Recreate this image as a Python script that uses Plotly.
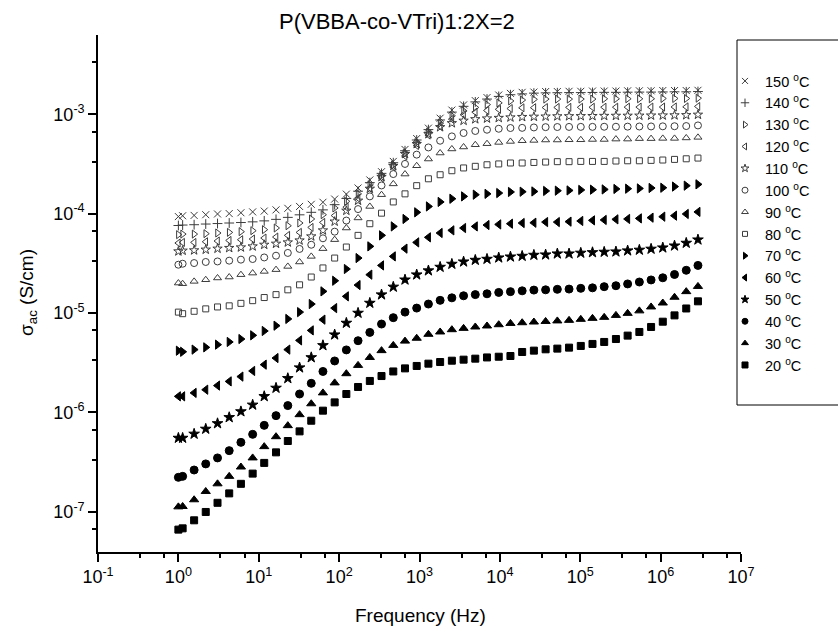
import plotly.graph_objects as go

# Frequency sweep (Hz)
freq = [1.0, 1.13, 1.57, 2.19, 3.07, 4.29, 6.0, 8.4, 11.7, 16.4, 23.0, 32.2, 45.0, 62.9,
        88.0, 123, 172, 241, 337, 472, 660, 923, 1291, 1806, 2527, 3535, 4945, 6918,
        9678, 13540, 18940, 26500, 37070, 51860, 72550, 101500, 142000, 198600,
        277900, 388700, 543800, 760800, 1064000, 1489000, 2083000, 2914000]

# AC conductivity (S/cm) at each temperature
s150 = [9.33e-5, 9.51e-5, 9.59e-5, 9.75e-5, 9.91e-5, 1.00e-4, 1.02e-4, 1.04e-4, 1.06e-4, 1.09e-4,
        1.13e-4, 1.18e-4, 1.24e-4, 1.30e-4, 1.40e-4, 1.57e-4, 1.81e-4, 2.18e-4, 2.64e-4, 3.35e-4,
        4.42e-4, 5.69e-4, 7.24e-4, 9.12e-4, 1.10e-3, 1.24e-3, 1.37e-3, 1.47e-3, 1.56e-3, 1.62e-3,
        1.66e-3, 1.67e-3, 1.69e-3, 1.69e-3, 1.70e-3, 1.70e-3, 1.71e-3, 1.71e-3, 1.71e-3, 1.72e-3,
        1.72e-3, 1.72e-3, 1.73e-3, 1.73e-3, 1.73e-3, 1.74e-3]
s140 = [7.59e-5, 7.67e-5, 7.73e-5, 7.85e-5, 7.94e-5, 8.04e-5, 8.13e-5, 8.26e-5, 8.45e-5, 8.75e-5,
        9.16e-5, 9.72e-5, 1.03e-4, 1.09e-4, 1.23e-4, 1.42e-4, 1.68e-4, 2.05e-4, 2.54e-4, 3.25e-4,
        4.29e-4, 5.50e-4, 7.00e-4, 8.75e-4, 1.05e-3, 1.20e-3, 1.33e-3, 1.42e-3, 1.51e-3, 1.57e-3,
        1.60e-3, 1.63e-3, 1.64e-3, 1.645e-3, 1.65e-3, 1.65e-3, 1.655e-3, 1.66e-3, 1.66e-3, 1.665e-3,
        1.67e-3, 1.67e-3, 1.675e-3, 1.68e-3, 1.68e-3, 1.69e-3]
s130 = [6.14e-5, 6.22e-5, 6.22e-5, 6.28e-5, 6.38e-5, 6.47e-5, 6.58e-5, 6.73e-5, 6.89e-5, 7.16e-5,
        7.55e-5, 8.04e-5, 8.83e-5, 9.75e-5, 1.14e-4, 1.33e-4, 1.58e-4, 1.95e-4, 2.43e-4, 3.09e-4,
        4.03e-4, 5.19e-4, 6.61e-4, 8.13e-4, 9.66e-4, 1.08e-3, 1.17e-3, 1.25e-3, 1.30e-3, 1.36e-3,
        1.39e-3, 1.41e-3, 1.42e-3, 1.42e-3, 1.42e-3, 1.42e-3, 1.42e-3, 1.43e-3, 1.43e-3, 1.43e-3,
        1.43e-3, 1.43e-3, 1.44e-3, 1.44e-3, 1.44e-3, 1.45e-3]
s120 = [5.06e-5, 5.13e-5, 5.13e-5, 5.21e-5, 5.30e-5, 5.37e-5, 5.46e-5, 5.55e-5, 5.68e-5, 5.81e-5,
        6.04e-5, 6.47e-5, 7.26e-5, 8.15e-5, 9.55e-5, 1.16e-4, 1.43e-4, 1.80e-4, 2.29e-4, 2.95e-4,
        3.80e-4, 4.84e-4, 6.17e-4, 7.59e-4, 8.91e-4, 9.89e-4, 1.05e-3, 1.09e-3, 1.12e-3, 1.14e-3,
        1.16e-3, 1.163e-3, 1.167e-3, 1.170e-3, 1.172e-3, 1.173e-3, 1.175e-3, 1.176e-3, 1.177e-3,
        1.178e-3, 1.179e-3, 1.180e-3, 1.181e-3, 1.183e-3, 1.186e-3, 1.197e-3]
s110 = [4.17e-5, 4.24e-5, 4.27e-5, 4.34e-5, 4.44e-5, 4.51e-5, 4.57e-5, 4.68e-5, 4.86e-5, 4.98e-5,
        5.13e-5, 5.37e-5, 5.90e-5, 6.78e-5, 8.32e-5, 1.07e-4, 1.35e-4, 1.78e-4, 2.34e-4, 3.02e-4,
        3.98e-4, 5.01e-4, 6.31e-4, 7.41e-4, 8.13e-4, 8.61e-4, 8.91e-4, 9.06e-4, 9.18e-4, 9.29e-4,
        9.38e-4, 9.44e-4, 9.48e-4, 9.53e-4, 9.55e-4, 9.57e-4, 9.59e-4, 9.62e-4, 9.64e-4, 9.66e-4,
        9.68e-4, 9.70e-4, 9.72e-4, 9.75e-4, 9.79e-4, 9.89e-4]
s100 = [3.06e-5, 3.13e-5, 3.18e-5, 3.26e-5, 3.30e-5, 3.36e-5, 3.44e-5, 3.49e-5, 3.62e-5, 3.77e-5,
        4.02e-5, 4.41e-5, 4.86e-5, 5.64e-5, 6.58e-5, 8.51e-5, 1.11e-4, 1.49e-4, 1.92e-4, 2.50e-4,
        3.16e-4, 3.92e-4, 4.63e-4, 5.41e-4, 5.98e-4, 6.47e-4, 6.78e-4, 6.98e-4, 7.14e-4, 7.26e-4,
        7.29e-4, 7.36e-4, 7.41e-4, 7.43e-4, 7.45e-4, 7.46e-4, 7.46e-4, 7.48e-4, 7.48e-4, 7.50e-4,
        7.52e-4, 7.53e-4, 7.55e-4, 7.57e-4, 7.60e-4, 7.71e-4]
s90 = [2.00e-5, 1.97e-5, 2.08e-5, 2.16e-5, 2.25e-5, 2.30e-5, 2.43e-5, 2.52e-5, 2.62e-5, 2.73e-5,
       2.94e-5, 3.26e-5, 3.71e-5, 4.44e-5, 5.47e-5, 7.16e-5, 9.04e-5, 1.18e-4, 1.55e-4, 1.99e-4,
       2.50e-4, 3.03e-4, 3.54e-4, 4.07e-4, 4.47e-4, 4.68e-4, 4.93e-4, 5.05e-4, 5.20e-4, 5.32e-4,
       5.41e-4, 5.45e-4, 5.50e-4, 5.50e-4, 5.53e-4, 5.53e-4, 5.57e-4, 5.57e-4, 5.62e-4, 5.62e-4,
       5.68e-4, 5.68e-4, 5.71e-4, 5.71e-4, 5.77e-4, 5.85e-4]
s80 = [1.02e-5, 9.84e-6, 1.04e-5, 1.10e-5, 1.15e-5, 1.18e-5, 1.25e-5, 1.33e-5, 1.43e-5, 1.53e-5,
       1.71e-5, 1.92e-5, 2.30e-5, 2.84e-5, 3.57e-5, 4.61e-5, 6.04e-5, 7.91e-5, 1.01e-4, 1.31e-4,
       1.58e-4, 1.91e-4, 2.24e-4, 2.46e-4, 2.70e-4, 2.88e-4, 2.99e-4, 3.10e-4, 3.16e-4, 3.23e-4,
       3.23e-4, 3.27e-4, 3.30e-4, 3.33e-4, 3.33e-4, 3.35e-4, 3.35e-4, 3.35e-4, 3.38e-4, 3.40e-4,
       3.40e-4, 3.43e-4, 3.46e-4, 3.51e-4, 3.56e-4, 3.62e-4]
s70 = [4.17e-6, 4.07e-6, 4.28e-6, 4.51e-6, 4.80e-6, 5.11e-6, 5.47e-6, 5.96e-6, 6.59e-6, 7.45e-6,
       8.71e-6, 1.02e-5, 1.23e-5, 1.65e-5, 2.11e-5, 2.77e-5, 3.57e-5, 4.68e-5, 6.04e-5, 7.43e-5,
       8.83e-5, 1.03e-4, 1.18e-4, 1.31e-4, 1.41e-4, 1.49e-4, 1.55e-4, 1.58e-4, 1.61e-4, 1.65e-4,
       1.66e-4, 1.67e-4, 1.69e-4, 1.70e-4, 1.71e-4, 1.73e-4, 1.74e-4, 1.75e-4, 1.77e-4, 1.78e-4,
       1.79e-4, 1.81e-4, 1.82e-4, 1.87e-4, 1.91e-4, 1.97e-4]
s60 = [1.45e-6, 1.45e-6, 1.57e-6, 1.69e-6, 1.86e-6, 2.05e-6, 2.29e-6, 2.61e-6, 3.02e-6, 3.52e-6,
       4.28e-6, 5.30e-6, 6.68e-6, 8.57e-6, 1.12e-5, 1.47e-5, 1.91e-5, 2.43e-5, 3.01e-5, 3.71e-5,
       4.44e-5, 5.13e-5, 5.77e-5, 6.38e-5, 6.78e-5, 7.16e-5, 7.43e-5, 7.67e-5, 7.78e-5, 7.91e-5,
       8.04e-5, 8.09e-5, 8.22e-5, 8.22e-5, 8.30e-5, 8.43e-5, 8.55e-5, 8.63e-5, 8.75e-5, 8.83e-5,
       8.95e-5, 9.10e-5, 9.31e-5, 9.53e-5, 9.91e-5, 1.04e-4]
s50 = [5.52e-7, 5.52e-7, 6.07e-7, 6.81e-7, 7.74e-7, 8.91e-7, 1.02e-6, 1.19e-6, 1.45e-6, 1.76e-6,
       2.20e-6, 2.82e-6, 3.57e-6, 4.72e-6, 6.05e-6, 7.93e-6, 1.00e-5, 1.26e-5, 1.53e-5, 1.83e-5,
       2.16e-5, 2.43e-5, 2.67e-5, 2.90e-5, 3.11e-5, 3.28e-5, 3.41e-5, 3.49e-5, 3.60e-5, 3.68e-5,
       3.74e-5, 3.83e-5, 3.86e-5, 3.95e-5, 3.95e-5, 4.02e-5, 4.07e-5, 4.11e-5, 4.14e-5, 4.24e-5,
       4.31e-5, 4.41e-5, 4.54e-5, 4.75e-5, 5.06e-5, 5.46e-5]
s40 = [2.22e-7, 2.27e-7, 2.63e-7, 3.03e-7, 3.48e-7, 4.12e-7, 4.99e-7, 6.01e-7, 7.40e-7, 9.27e-7,
       1.17e-6, 1.53e-6, 1.96e-6, 2.58e-6, 3.29e-6, 4.25e-6, 5.26e-6, 6.38e-6, 7.74e-6, 8.97e-6,
       1.02e-5, 1.12e-5, 1.23e-5, 1.34e-5, 1.42e-5, 1.49e-5, 1.53e-5, 1.56e-5, 1.61e-5, 1.64e-5,
       1.67e-5, 1.70e-5, 1.71e-5, 1.73e-5, 1.74e-5, 1.77e-5, 1.79e-5, 1.84e-5, 1.88e-5, 1.96e-5,
       2.05e-5, 2.15e-5, 2.26e-5, 2.44e-5, 2.69e-5, 3.01e-5]
s30 = [1.12e-7, 1.13e-7, 1.32e-7, 1.60e-7, 1.91e-7, 2.27e-7, 2.82e-7, 3.48e-7, 4.52e-7, 5.69e-7,
       7.35e-7, 9.48e-7, 1.22e-6, 1.57e-6, 1.98e-6, 2.45e-6, 2.97e-6, 3.57e-6, 4.18e-6, 4.72e-6,
       5.21e-6, 5.57e-6, 6.10e-6, 6.44e-6, 6.79e-6, 7.00e-6, 7.23e-6, 7.40e-6, 7.62e-6, 7.85e-6,
       7.98e-6, 8.11e-6, 8.22e-6, 8.32e-6, 8.43e-6, 8.63e-6, 8.83e-6, 9.04e-6, 9.46e-6, 9.91e-6,
       1.05e-5, 1.15e-5, 1.26e-5, 1.44e-5, 1.64e-5, 1.85e-5]
s20 = [6.61e-8, 6.81e-8, 8.20e-8, 9.95e-8, 1.23e-7, 1.53e-7, 1.91e-7, 2.42e-7, 3.10e-7, 3.96e-7,
       5.15e-7, 6.44e-7, 8.24e-7, 1.04e-6, 1.26e-6, 1.53e-6, 1.80e-6, 2.07e-6, 2.32e-6, 2.58e-6,
       2.77e-6, 2.93e-6, 3.09e-6, 3.21e-6, 3.31e-6, 3.39e-6, 3.47e-6, 3.57e-6, 3.63e-6, 3.69e-6,
       4.05e-6, 4.18e-6, 4.31e-6, 4.38e-6, 4.48e-6, 4.66e-6, 4.88e-6, 5.11e-6, 5.47e-6, 5.92e-6,
       6.44e-6, 7.23e-6, 8.17e-6, 9.46e-6, 1.11e-5, 1.31e-5]

temps = [150, 140, 130, 120, 110, 100, 90, 80, 70, 60, 50, 40, 30, 20]
series = [s150, s140, s130, s120, s110, s100, s90, s80, s70, s60, s50, s40, s30, s20]

# (symbol, plot size, legend size): open markers for the hot runs, filled for the cool ones
styles = [
    ("x-thin-open", 7, 6), ("cross-thin-open", 7, 6), ("triangle-right-open", 7, 6),
    ("triangle-left-open", 7, 6), ("star-open", 7, 6), ("circle-open", 7, 6),
    ("triangle-up-open", 7, 6), ("square-open", 6, 5), ("triangle-right", 8, 6),
    ("triangle-left", 8, 6), ("star", 8, 6), ("circle", 8, 6), ("triangle-up", 8, 6),
    ("square", 7, 6),
]

FONT = "Liberation Sans, Arial, sans-serif"

fig = go.Figure()
for t, ys, (sym, size, lsize) in zip(temps, series, styles):
    is_open = sym.endswith("open")
    col = "#3c3c3c" if is_open else "black"
    fig.add_trace(go.Scatter(
        x=freq, y=ys, mode="markers", showlegend=False,
        marker=dict(symbol=sym, size=size, color=col, line=dict(width=1, color=col)),
    ))
    # legend key drawn with a slightly smaller symbol
    fig.add_trace(go.Scatter(
        x=[None], y=[None], mode="markers", name=f"{t} <sup>o</sup>C",
        marker=dict(symbol=sym, size=lsize, color=col, line=dict(width=1, color=col)),
    ))

# plot-area geometry (pixels)
L, R, T, B = 98, 741, 35, 552
W, H = 838, 632

def px_x(p):
    return (p - L) / (R - L)

def px_y(p):
    return (B - p) / (B - T)

def minor_vals(lo, hi):
    vals = []
    for n in range(lo, hi):
        vals += [10 ** n / 3 * 10, 10 ** n * 2 / 3 * 10]
    return vals

xt = [10.0 ** n for n in range(-1, 8)]
yt = [10.0 ** n for n in range(-7, -2)]

axis_common = dict(
    type="log", showline=True, linecolor="black", linewidth=1.6,
    ticks="outside", ticklen=8, tickwidth=1.6, tickcolor="black",
    showgrid=False, zeroline=False, mirror=False,
    tickfont=dict(family=FONT, size=18, color="black"),
)

fig.update_layout(
    width=W, height=H,
    margin=dict(l=L, r=W - R, t=T, b=H - B, autoexpand=False),
    paper_bgcolor="white", plot_bgcolor="white",
    showlegend=True,
    xaxis=dict(axis_common, range=[-1, 7], tickvals=xt,
               ticktext=[f"10<sup>{n}</sup>" for n in range(-1, 8)],
               minor=dict(tickvals=minor_vals(-2, 7), ticks="outside", ticklen=4,
                          tickwidth=1.6, tickcolor="black", showgrid=False)),
    yaxis=dict(axis_common, range=[-7.405, -2.203], tickvals=yt,
               ticktext=[f"10<sup>{n}</sup>" for n in range(-7, -2)],
               minor=dict(tickvals=minor_vals(-8, -2), ticks="outside", ticklen=4,
                          tickwidth=1.6, tickcolor="black", showgrid=False)),
    legend=dict(x=px_x(725), y=px_y(65), xanchor="left", yanchor="top",
                bgcolor="rgba(0,0,0,0)", borderwidth=0,
                font=dict(family=FONT, size=14.5, color="black"),
                tracegroupgap=0, itemsizing="trace"),
    font=dict(family=FONT, color="black"),
)

# legend frame
fig.add_shape(type="rect", xref="paper", yref="paper",
              x0=px_x(737), x1=px_x(900), y0=px_y(405), y1=px_y(40),
              line=dict(color="black", width=1))

# title and axis titles
fig.add_annotation(text="P(VBBA-co-VTri)1:2X=2", xref="paper", yref="paper",
                   x=px_x(397), y=px_y(22), xanchor="center", yanchor="middle",
                   showarrow=False, font=dict(family=FONT, size=22, color="black"))
fig.add_annotation(text="Frequency (Hz)", xref="paper", yref="paper",
                   x=px_x(420), y=px_y(615), xanchor="center", yanchor="middle",
                   showarrow=False, font=dict(family=FONT, size=19, color="black"))
fig.add_annotation(text="σ<sub>ac</sub> (S/cm)", xref="paper", yref="paper",
                   x=px_x(28), y=px_y(293), xanchor="center", yanchor="middle",
                   showarrow=False, textangle=-90,
                   font=dict(family=FONT, size=19, color="black"))

fig.write_html("out.html")
